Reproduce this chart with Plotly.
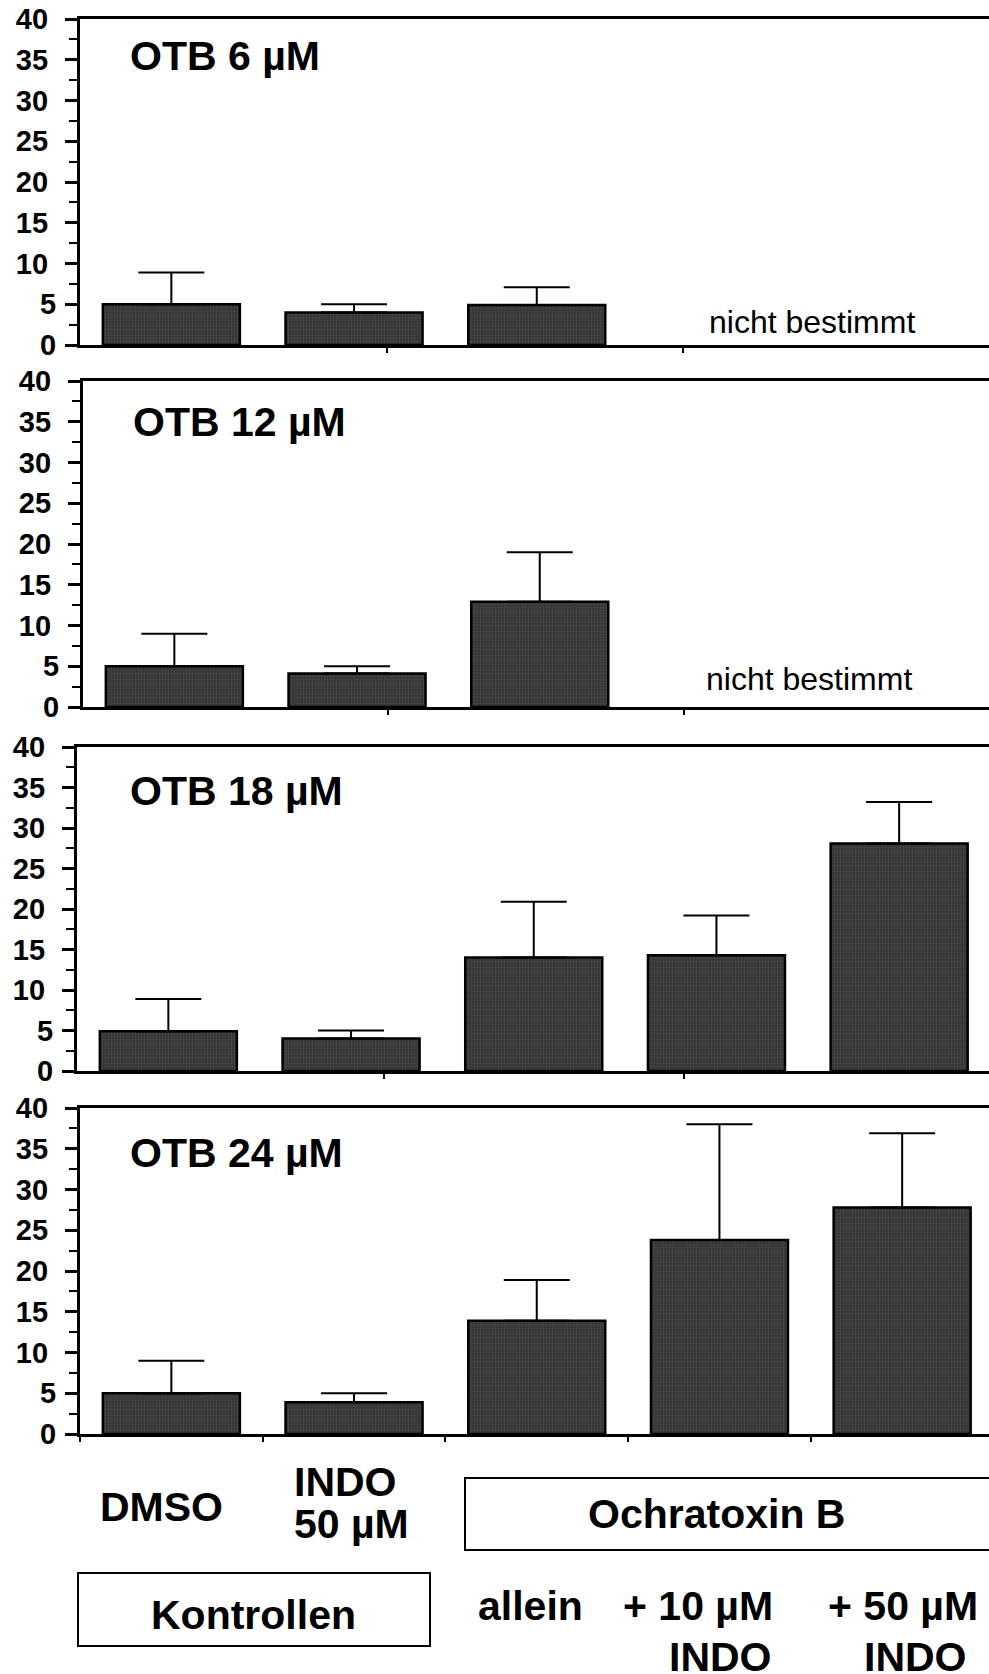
import plotly.graph_objects as go

W, H = 989, 1674

# treatment groups, in bar order
groups = ["DMSO", "INDO 50 µM", "OTB allein", "OTB + 10 µM INDO", "OTB + 50 µM INDO"]
panel_titles = ["OTB 6 µM", "OTB 12 µM", "OTB 18 µM", "OTB 24 µM"]

# mean values and upper error (SD) per OTB concentration
means_6 = [5.0, 4.0, 4.9, None, None]
err_6 = [3.9, 1.0, 2.2, None, None]
means_12 = [5.0, 4.1, 12.9, None, None]
err_12 = [4.0, 0.9, 6.1, None, None]
means_18 = [4.9, 4.0, 14.0, 14.3, 28.1]
err_18 = [4.0, 1.0, 6.9, 4.9, 5.1]
means_24 = [5.0, 3.9, 13.9, 23.8, 27.8]
err_24 = [4.0, 1.1, 5.0, 14.2, 9.1]

y_tickvals = [0, 5, 10, 15, 20, 25, 30, 35, 40]
y_ticktext = ["0", "5", "10\u00a0", "15\u00a0", "20\u00a0", "25\u00a0", "30\u00a0", "35\u00a0", "40\u00a0"]

not_measured = "nicht bestimmt"

# ---- layout geometry (pixels) ----
FONT = "Liberation Sans, Arial, Helvetica, sans-serif"
SLOT = 182.7                      # pixel width of one group slot
panel_left = [80, 83, 77, 80]     # y-axis position of each panel
panel_top = [19, 381, 747, 1108]
panel_bottom = [345, 707, 1071, 1434]
title_y = [56, 422, 791, 1153]
title_x = [128, 131, 128, 128]
nb_pos = [(812, 322), (809, 679), None, None]
xtick_sets = [[1.18, 2.8], [1.17, 2.79], [1.18, 2.82], [-0.5, 0.5, 1.5, 2.5, 3.5]]


def px(x):
    return x / W


def py(y):
    return 1 - y / H


data = [(means_6, err_6), (means_12, err_12), (means_18, err_18), (means_24, err_24)]

fig = go.Figure()
layout = dict(
    width=W, height=H,
    margin=dict(l=0, r=0, t=0, b=0, pad=0, autoexpand=False),
    paper_bgcolor="white", plot_bgcolor="white",
    showlegend=False,
    font=dict(family=FONT, color="black"),
)

for i, (vals, errs) in enumerate(data):
    n = i + 1
    xa = "x" if n == 1 else f"x{n}"
    ya = "y" if n == 1 else f"y{n}"
    xs = list(range(len(groups)))
    fig.add_trace(go.Bar(
        x=xs, y=vals, xaxis=xa, yaxis=ya,
        width=0.75,
        hovertext=groups,
        marker=dict(
            color="#3a3a3a",
            line=dict(color="black", width=2.5),
            pattern=dict(shape=".", fgcolor="#5a5a5a", bgcolor="#323232", size=3, solidity=0.45),
        ),
        error_y=dict(type="data", symmetric=False, array=errs,
                     arrayminus=[0] * len(errs), color="black",
                     thickness=2, width=33),
    ))

    left = panel_left[i]
    xkey = "xaxis" if n == 1 else f"xaxis{n}"
    ykey = "yaxis" if n == 1 else f"yaxis{n}"
    layout[xkey] = dict(
        domain=[px(left), 1.0],
        range=[-0.5, -0.5 + (W - left) / SLOT],
        anchor=ya, automargin=False,
        showline=True, linecolor="black", linewidth=3, mirror=True,
        ticks="outside", tickvals=xtick_sets[i], ticklen=5, tickwidth=2,
        tickcolor="black", showticklabels=False,
        showgrid=False, zeroline=False, fixedrange=True,
    )
    layout[ykey] = dict(
        domain=[py(panel_bottom[i]), py(panel_top[i])],
        range=[0, 40],
        anchor=xa, automargin=False,
        showline=True, linecolor="black", linewidth=3,
        ticks="outside", ticklen=12, tickwidth=2.5, tickcolor="black",
        tickvals=y_tickvals, ticktext=y_ticktext,
        tickfont=dict(family=FONT, size=29, weight="bold", color="black"),
        ticklabelstandoff=3,
        minor=dict(dtick=2.5, tick0=0, ticks="outside", ticklen=8,
                   tickwidth=2, tickcolor="black", showgrid=False),
        showgrid=False, zeroline=False, fixedrange=True,
    )

annotations = []
big = dict(family=FONT, size=41, weight="bold", color="black")

for i, t in enumerate(panel_titles):
    annotations.append(dict(
        text=t, xref="paper", yref="paper",
        x=px(title_x[i]), y=py(title_y[i]),
        xanchor="left", yanchor="middle", showarrow=False, font=big,
    ))
    if nb_pos[i] is not None:
        annotations.append(dict(
            text=not_measured, xref="paper", yref="paper",
            x=px(nb_pos[i][0]), y=py(nb_pos[i][1]),
            xanchor="center", yanchor="middle", showarrow=False,
            font=dict(family=FONT, size=32, color="black"),
        ))

# group labels under the bottom panel
labels = [
    ("DMSO", 161, 1507, "center"),
    ("INDO", 292, 1482, "left"),
    ("50 µM", 292, 1524, "left"),
    ("Ochratoxin B", 716, 1514, "center"),
    ("Kontrollen", 253, 1615, "center"),
    ("allein", 530, 1606, "center"),
    ("+ 10 µM", 775, 1606, "right"),
    ("INDO", 774, 1657, "right"),
    ("+ 50 µM", 980, 1606, "right"),
    ("INDO", 969, 1657, "right"),
]
for text, x, y, anchor in labels:
    annotations.append(dict(
        text=text, xref="paper", yref="paper", x=px(x), y=py(y),
        xanchor=anchor, yanchor="middle", showarrow=False, font=big,
    ))

layout["annotations"] = annotations
layout["shapes"] = [
    dict(type="rect", xref="paper", yref="paper",
         x0=px(78), x1=px(430), y0=py(1646), y1=py(1573),
         line=dict(color="black", width=2), fillcolor="rgba(0,0,0,0)"),
    dict(type="rect", xref="paper", yref="paper",
         x0=px(465), x1=px(1000), y0=py(1550), y1=py(1478),
         line=dict(color="black", width=2), fillcolor="rgba(0,0,0,0)"),
]

fig.update_layout(**layout)
fig.write_html("out.html")
